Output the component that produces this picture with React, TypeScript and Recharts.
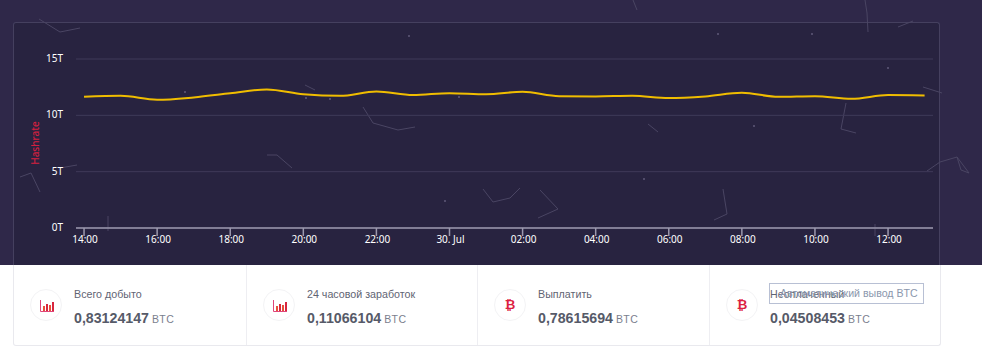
import React from 'react';
import { LineChart, Line, XAxis, YAxis, CartesianGrid } from 'recharts';

// hours since 14:00, one reading per hour
const hours = [0, 1, 2, 3, 4, 5, 6, 7, 8, 9, 10, 11, 12, 13, 14, 15, 16, 17, 18, 19, 20, 21, 22, 23];
const hashrate = [
  11.64, 11.73, 11.38, 11.59, 11.95, 12.3, 11.88, 11.73, 12.12, 11.8, 11.97, 11.88,
  12.09, 11.7, 11.68, 11.73, 11.53, 11.68, 12.0, 11.64, 11.7, 11.47, 11.8, 11.77,
];
const xTicks = [0, 2, 4, 6, 8, 10, 12, 14, 16, 18, 20, 22];
const xTickLabels = ['14:00', '16:00', '18:00', '20:00', '22:00', '30. Jul', '02:00', '04:00', '06:00', '08:00', '10:00', '12:00'];
const yTicks = [0, 5, 10, 15];

const cardTitles = ['Всего добыто', '24 часовой заработок', 'Выплатить', 'Неоплаченный'];
const cardValues = ['0,83124147', '0,11066104', '0,78615694', '0,04508453'];
const cardIcons = ['bars', 'bars', 'btc', 'btc'];

// faint background network, decoration only
const particles = [
  '39,19 60,32 80,28', '20,177 31,173 40,192', '60,168 77,165', '267,155 277,155 292,168',
  '363,107 373,123 398,130 415,127', '305,85 315,90', '108,216 108,231', '483,189 493,202 510,198 520,188',
  '633,0 637,10', '865,0 867,13 868,32', '898,27 913,21', '923,87 942,93', '648,124 658,132',
  '846,103 841,129 856,133', '723,189 727,214 714,220', '558,209 538,218', '540,190 558,209',
  '927,171 940,162 957,157 969,173 961,170 957,157', '875,224 875,236',
];
const dots = [
  '409,36', '185,92', '306,98', '330,99', '459,97', '445,201', '644,179', '718,34', '812,34', '888,68', '754,126',
];

const tickColor = '#ffffff';
const fontFamily = '"Noto Sans", sans-serif';

const YTick = (props: any) => (
  <text x={63} y={props.y + 3} textAnchor="end" fill={tickColor} fontSize={10} fontFamily={fontFamily}>
    {props.payload.value}T
  </text>
);

const XTick = (props: any) => (
  <text x={props.x + 1} y={243} textAnchor="middle" fill={tickColor} fontSize={10} fontFamily={fontFamily}>
    {xTickLabels[xTicks.indexOf(props.payload.value)]}
  </text>
);

const AxisTitle = () => (
  <text
    x={39}
    y={143}
    transform="rotate(-90 39 143)"
    textAnchor="middle"
    fill="#d3203f"
    fontSize={10}
    fontWeight={500}
    fontFamily={fontFamily}
  >
    Hashrate
  </text>
);

const chartData = hours.map((hour, i) => ({ hour, value: hashrate[i] }));

const CardIcon = ({ kind }: { kind: string }) => (
  <div
    style={{
      position: 'absolute',
      left: 16,
      top: 24,
      width: 30,
      height: 30,
      border: '1px solid #f3f3f5',
      borderRadius: '50%',
      textAlign: 'center',
      lineHeight: '30px',
      color: '#dc1f42',
      fontWeight: 'bold',
      fontSize: 13,
    }}
  >
    {kind === 'btc' ? (
      '₿'
    ) : (
      <svg width={14} height={12} style={{ position: 'absolute', left: 9, top: 10 }}>
        <path d="M0.5 0V11.5H14" stroke="#e0457a" fill="none" />
        <rect x={3} y={6} width={2} height={5} fill="#e8503a" />
        <rect x={6} y={4} width={2} height={7} fill="#d8263f" />
        <rect x={9} y={5} width={2} height={6} fill="#e8503a" />
        <rect x={12} y={2} width={2} height={9} fill="#d8263f" />
      </svg>
    )}
  </div>
);

export default function App() {
  return (
    <div style={{ position: 'absolute', left: 0, top: 0, width: 982, height: 355, background: '#fff', overflow: 'hidden' }}>
      <div style={{ position: 'absolute', left: 0, top: 0, width: 982, height: 265, background: '#2f2849' }} />
      <div
        style={{
          position: 'absolute',
          left: 13,
          top: 22,
          width: 927,
          height: 243,
          background: '#282340',
          border: '1px solid #45405f',
          borderBottom: 'none',
          borderRadius: '3px 3px 0 0',
          boxSizing: 'border-box',
        }}
      />
      <svg width={982} height={265} style={{ position: 'absolute', left: 0, top: 0 }}>
        {particles.map((p) => (
          <polyline key={p} points={p} fill="none" stroke="#4a4563" strokeWidth={1} />
        ))}
        {dots.map((d) => {
          const [cx, cy] = d.split(',');
          return <circle key={d} cx={cx} cy={cy} r={1} fill="#5f5a78" />;
        })}
      </svg>
      <div style={{ position: 'absolute', left: 0, top: 0 }}>
        <LineChart width={982} height={265} data={chartData} margin={{ top: 59, right: 49, bottom: 0, left: 16 }}>
          <CartesianGrid horizontal vertical={false} stroke="#3f3a58" />
          <XAxis
            dataKey="hour"
            type="number"
            domain={[-0.22, 23.23]}
            ticks={xTicks}
            height={37}
            interval={0}
            tick={<XTick />}
            tickSize={8}
            stroke="#9c99ae"
            strokeWidth={1.5}
          />
          <YAxis
            type="number"
            domain={[0, 15]}
            ticks={yTicks}
            width={60}
            axisLine={false}
            tickLine={false}
            tick={<YTick />}
            label={{ content: <AxisTitle /> }}
          />
          <Line type="monotone" dataKey="value" stroke="#f0bd00" strokeWidth={2} dot={false} isAnimationActive={false} />
        </LineChart>
      </div>
      <div
        style={{
          position: 'absolute',
          left: 13,
          top: 265,
          width: 928,
          height: 81,
          border: '1px solid #e9e9ee',
          borderTop: 'none',
          borderRadius: '0 0 3px 3px',
          boxSizing: 'border-box',
          fontFamily: '"Liberation Sans", sans-serif',
        }}
      >
        {cardTitles.map((title, i) => (
          <div
            key={title}
            style={{
              position: 'absolute',
              left: [0, 233, 464, 696][i],
              top: 0,
              width: [233, 231, 232, 231][i],
              height: 80,
              borderRight: i < 3 ? '1px solid #eeeef2' : 'none',
              boxSizing: 'border-box',
            }}
          >
            <CardIcon kind={cardIcons[i]} />
            <div style={{ position: 'absolute', left: 60, top: 22.5, fontSize: 10.7, color: '#5f6473', whiteSpace: 'nowrap' }}>{title}</div>
            <div style={{ position: 'absolute', left: 60, top: 45, fontSize: 14.2, fontWeight: 'bold', color: '#565a68', whiteSpace: 'nowrap' }}>
              {cardValues[i]}
              <span style={{ fontSize: 10.5, fontWeight: 'normal', color: '#7b808e', marginLeft: 3, letterSpacing: 0.4 }}>BTC</span>
            </div>
          </div>
        ))}
      </div>
      <div
        style={{
          position: 'absolute',
          left: 769,
          top: 283,
          width: 155,
          height: 21,
          border: '1px solid #b8c0d4',
          boxSizing: 'border-box',
          fontFamily: '"Liberation Sans", sans-serif',
          fontSize: 10.6,
          lineHeight: '19px',
          color: '#8b97ad',
          paddingLeft: 10,
          whiteSpace: 'nowrap',
        }}
      >
        Автоматический вывод BTC
      </div>
    </div>
  );
}
